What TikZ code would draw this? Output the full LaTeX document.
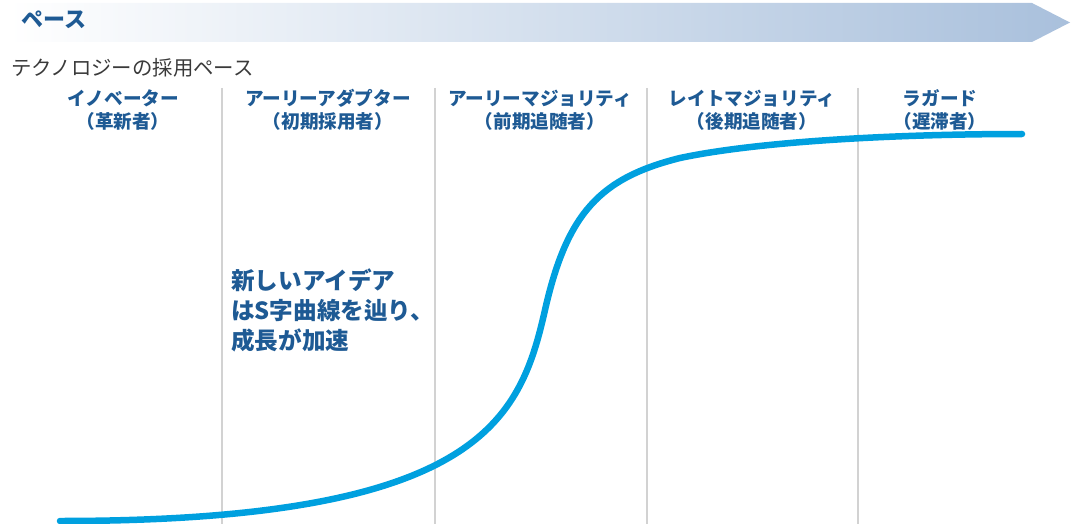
\documentclass[tikz,border=0pt]{standalone}
\usepackage{fontspec}
\newfontfamily\jp{Noto Sans CJK JP}
\definecolor{hdrblue}{HTML}{1E5A94}
\definecolor{curveblue}{HTML}{00A0DF}
\definecolor{bannerend}{HTML}{A9C0DC}
\definecolor{divgray}{HTML}{D2D2D2}
\definecolor{subgray}{HTML}{3A3A3A}
\tikzset{
  hdr/.style={font=\jp\bfseries\fontsize{18.6}{22.5}\selectfont, text=hdrblue, align=center, inner sep=0pt},
  divider/.style={draw=divgray, line width=1.3pt},
  scurve/.style={draw=curveblue, line width=6.5pt, line cap=round},
}
\begin{document}
\begin{tikzpicture}[x=1pt,y=-1pt]
\useasboundingbox (0,0) rectangle (1076,524);
% banner
\shade[left color=white, right color=bannerend]
  (8,3) -- (1032,3) -- (1070,22.5) -- (1032,42) -- (8,42) -- cycle;
\node[anchor=west, font=\jp\bfseries\fontsize{22}{24}\selectfont, text=hdrblue, inner sep=0pt] (pace) at (21,20) {ペース};
\node[anchor=west, font=\jp\fontsize{20.4}{22}\selectfont, text=subgray, inner sep=0pt] (sub) at (11,68) {テクノロジーの採用ペース};
% dividers
\foreach \x/\n in {222/a,435/b,647/c,858/d}{
  \coordinate (top\n) at (\x,88);
  \coordinate (bot\n) at (\x,524);
  \draw[divider] (top\n) -- (bot\n);
}
% headers
\node[hdr] (h1) at (123,110) {イノベーター\\（革新者）};
\node[hdr] (h2) at (328,110) {アーリーアダプター\\（初期採用者）};
\node[hdr] (h3) at (540,110) {アーリーマジョリティ\\（前期追随者）};
\node[hdr] (h4) at (752,110) {レイトマジョリティ\\（後期追随者）};
\node[hdr] (h5) at (940,110) {ラガード\\（遅滞者）};
% curve
\coordinate (c0) at (60,521);
\coordinate (c1) at (545,310);
\coordinate (c2) at (680,158);
\coordinate (c3) at (1022,134);
\draw[scurve] (c0) .. controls (480,521) and (520,420) .. (c1)
  .. controls (567,213) and (600,178) .. (c2)
  .. controls (760,141) and (900,134) .. (c3);
% body text
\node[anchor=north west, font=\jp\bfseries\fontsize{23.6}{30}\selectfont, text=hdrblue, align=left, inner sep=0pt] (body) at (231,269) {新しいアイデア\\はS字曲線を辿り、\\成長が加速};
\end{tikzpicture}
\end{document}
